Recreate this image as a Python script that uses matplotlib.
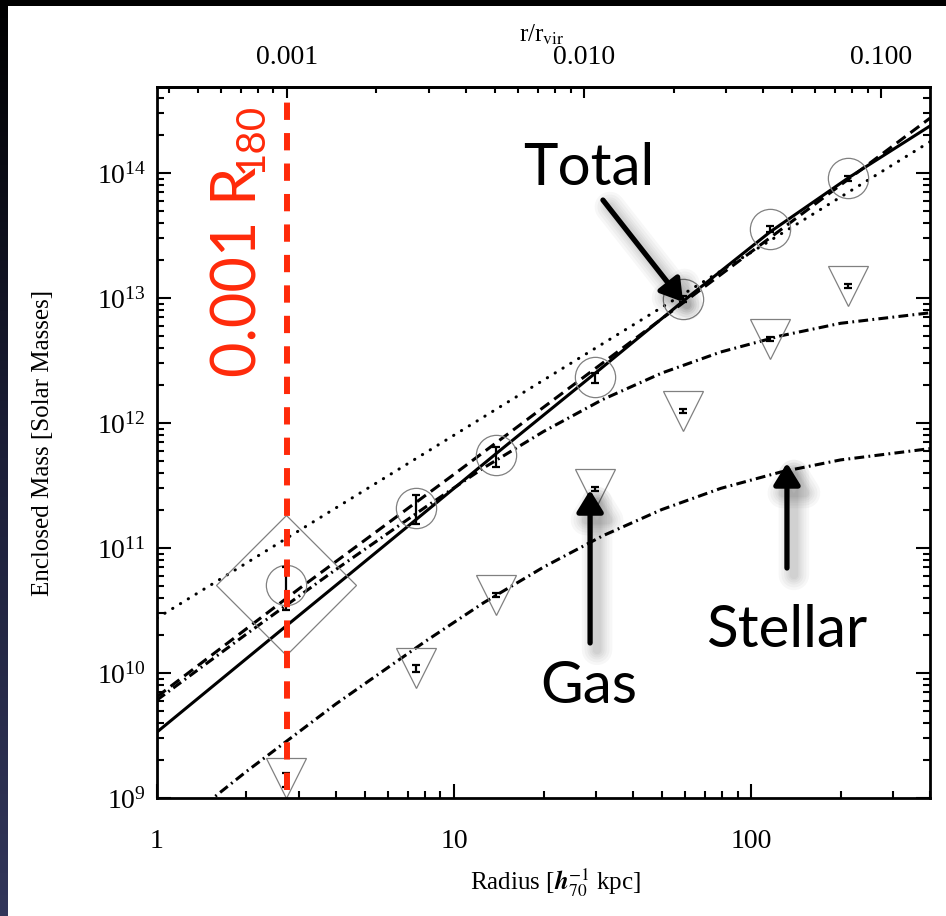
import numpy as np
import matplotlib
matplotlib.use('Agg')
import matplotlib.pyplot as plt
from matplotlib.ticker import LogLocator, NullFormatter, FixedLocator, FuncFormatter
from matplotlib.colors import LinearSegmentedColormap
from matplotlib.patches import Rectangle
from matplotlib import patheffects as pe

plt.rcParams['font.family'] = ['Liberation Serif', 'DejaVu Serif']
plt.rcParams['mathtext.fontset'] = 'stix'

# virial radius (kpc) used for the top axis and the marker line
r180 = 2740.0

# total mass points (circles) with error bar limits
radius = [2.72, 7.45, 13.8, 29.9, 59.0, 116.0, 212.0]
mass_total = [5.06e10, 2.09e11, 5.55e11, 2.33e12, 9.8e12, 3.57e13, 9.1e13]
mass_total_lo = [3.19e10, 1.56e11, 4.45e11, 2.09e12, 9.3e12, 3.40e13, 8.7e13]
mass_total_hi = [7.05e10, 2.65e11, 6.43e11, 2.51e12, 1.03e13, 3.75e13, 9.5e13]

# gas mass points (triangles)
mass_gas = [1.45e9, 1.10e10, 4.2e10, 2.97e11, 1.25e12, 4.7e12, 1.25e13]
mass_gas_lo = [1.22e9, 1.02e10, 4.05e10, 2.88e11, 1.21e12, 4.55e12, 1.21e13]
mass_gas_hi = [1.58e9, 1.16e10, 4.35e10, 3.06e11, 1.29e12, 4.85e12, 1.29e13]

# model curves
r_total_fit = [1, 2.74, 4.47, 7.45, 13.8, 29.9, 59.0, 116.0, 212.0, 400.0]
m_total_fit = [3.37e9, 2.41e10, 6.24e10, 1.69e11, 5.65e11, 2.51e12, 9.44e12, 3.39e13, 9.12e13, 2.38e14]

r_dashed = [1, 3, 10, 30, 100, 400]
m_dashed = [6.46e9, 4.7e10, 3.89e11, 2.75e12, 2.34e13, 2.75e14]

r_dotted = [1, 10, 100, 400]
m_dotted = [2.75e10, 8.0e11, 2.32e13, 1.78e14]

r_gas_fit = [1, 2, 4, 8, 12.6, 20, 31.6, 50, 79, 126, 200, 400]
m_gas_fit = [6.08e9, 2.05e10, 6.73e10, 2.12e11, 4.39e11, 8.55e11, 1.54e12, 2.51e12,
             3.70e12, 4.99e12, 6.28e12, 7.62e12]

r_star_fit = [1, 2, 4, 8, 12.6, 20, 31.6, 50, 79, 126, 200, 400]
m_star_fit = [4.39e8, 1.63e9, 5.65e9, 1.79e10, 3.66e10, 7.03e10, 1.25e11, 2.03e11,
              3.0e11, 4.06e11, 5.07e11, 6.24e11]

W, H = 946, 916
fig = plt.figure(figsize=(W / 100, H / 100), dpi=100, facecolor='black')

# white slide panel and the dark strip on the left
panel = fig.add_axes([7 / W, 0, 1 - 7 / W, 1 - 6 / H], zorder=-10)
panel.axis('off')
panel.add_patch(Rectangle((0, 0), 1, 1, transform=panel.transAxes, facecolor='white', edgecolor='none'))
strip = fig.add_axes([0, 0, 7 / W, 1], zorder=-10)
grad = np.linspace(0, 1, 256).reshape(-1, 1)
strip.imshow(grad, aspect='auto', origin='upper',
             cmap=LinearSegmentedColormap.from_list('strip', ['#000000', '#1c1f38', '#32365a']))
strip.axis('off')

ax = fig.add_axes([157 / W, (H - 798) / H, (930 - 157) / W, (798 - 87) / H])
ax.set_facecolor('none')
ax.set_xscale('log')
ax.set_yscale('log')
ax.set_xlim(1, 400)
ax.set_ylim(1e9, 4.88e14)

lw = 2.2
dashdot = (0, (3.2, 1.4, 0.6, 1.4))
ax.plot(r_dotted, m_dotted, color='k', lw=lw, linestyle=(0, (0.1, 2.9)), dash_capstyle='round')
ax.plot(r_dashed, m_dashed, color='k', lw=lw, linestyle=(0, (3.6, 2.0)))
ax.plot(r_gas_fit, m_gas_fit, color='k', lw=lw, linestyle=dashdot)
ax.plot(r_star_fit, m_star_fit, color='k', lw=lw, linestyle=dashdot)
ax.plot(r_total_fit, m_total_fit, color='k', lw=lw)

gray = '#808080'
ax.plot(radius, mass_total, linestyle='none', marker='o', ms=29, mfc='none', mec=gray, mew=0.9)
ax.plot(radius, mass_gas, linestyle='none', marker='v', ms=29.5, mfc='none', mec=gray, mew=0.9)
ax.plot(radius[:1], mass_total[:1], linestyle='none', marker='D', ms=71, mfc='none', mec=gray, mew=0.9)

tot_err = [np.array(mass_total) - np.array(mass_total_lo), np.array(mass_total_hi) - np.array(mass_total)]
gas_err = [np.array(mass_gas) - np.array(mass_gas_lo), np.array(mass_gas_hi) - np.array(mass_gas)]
ax.errorbar(radius, mass_total, yerr=tot_err, fmt='none', ecolor='k', elinewidth=1.6, capsize=3, capthick=1.6)
ax.errorbar(radius, mass_gas, yerr=gas_err, fmt='none', ecolor='k', elinewidth=1.6, capsize=3, capthick=1.6)

# 0.001 R180 marker
red = '#ff2a0a'
ax.axvline(0.001 * r180, ymin=0.011, ymax=0.986, color=red, lw=4.3, linestyle=(0, (2.9, 2.2)))
ax.text(2.17, 2.33e12, '0.001 R', rotation=90, rotation_mode='anchor', ha='left', va='baseline',
        color=red, fontsize=44, family='Lato')
ax.text(2.27, 1.0e14, '180', rotation=90, rotation_mode='anchor', ha='left', va='baseline',
        color=red, fontsize=29, family='Lato')

# labelled arrows with a soft drop shadow
shadow = [pe.SimpleLineShadow(offset=(5, -5), shadow_color='k', alpha=0.03, linewidth=w)
          for w in (22, 18, 14, 11, 8, 6)] + [pe.Normal()]
arrows = [((59.0, 9.3e12), (31.7, 6.08e13)),
          ((28.7, 2.91e11), (28.7, 1.74e10)),
          ((132.0, 4.79e11), (132.0, 6.92e10))]
for tip, tail in arrows:
    an = ax.annotate('', xy=tip, xytext=tail,
                     arrowprops=dict(arrowstyle='-|>,head_length=1.3,head_width=0.8', mutation_scale=10,
                                     lw=3.8, color='k', shrinkA=0, shrinkB=0))
    an.arrow_patch.set_path_effects(shadow)

ax.text(28.3, 8.0e13, 'Total', ha='center', va='baseline', fontsize=42, family='Lato')
ax.text(28.5, 5.75e9, 'Gas', ha='center', va='baseline', fontsize=42, family='Lato')
ax.text(132.0, 1.61e10, 'Stellar', ha='center', va='baseline', fontsize=42, family='Lato')

# axes, ticks and labels
ax.xaxis.set_major_locator(FixedLocator([1, 10, 100]))
ax.xaxis.set_major_formatter(FuncFormatter(lambda v, _: '%g' % v))
ax.xaxis.set_minor_locator(LogLocator(base=10, subs=np.arange(2, 10), numticks=50))
ax.xaxis.set_minor_formatter(NullFormatter())
ax.yaxis.set_major_locator(LogLocator(base=10, numticks=20))
ax.yaxis.set_minor_locator(LogLocator(base=10, subs=np.arange(2, 10), numticks=100))
ax.yaxis.set_minor_formatter(NullFormatter())

ax.tick_params(which='both', direction='in', top=False, right=True, width=1.5, labelsize=20)
ax.tick_params(which='major', length=10)
ax.tick_params(which='minor', length=5)
ax.tick_params(axis='x', pad=22)
ax.tick_params(axis='y', pad=8)
for s in ax.spines.values():
    s.set_linewidth(2)

secax = ax.secondary_xaxis('top', functions=(lambda r: r / r180, lambda q: q * r180))
secax.set_xticks([0.001, 0.01, 0.1], labels=['0.001', '0.010', '0.100'])
secax.xaxis.set_minor_locator(LogLocator(base=10, subs=np.arange(2, 10), numticks=50))
secax.xaxis.set_minor_formatter(NullFormatter())
secax.tick_params(which='both', direction='in', width=1.5, labelsize=20, pad=12)
secax.tick_params(which='major', length=8)
secax.tick_params(which='minor', length=4)
secax.spines['top'].set_linewidth(2)
ax.text(0.498, 1.074, r'r/r$_{\mathrm{vir}}$', transform=ax.transAxes, ha='center', va='center', fontsize=18)

ax.set_ylabel('Enclosed Mass [Solar Masses]', fontsize=18, va='center')
ax.yaxis.set_label_coords(-0.1475, 0.5)
ax.set_xlabel(r'Radius [$\mathbfit{h}_{70}^{-1}$ kpc]', fontsize=18, va='center')
ax.xaxis.set_label_coords(0.515, -0.118)

fig.savefig('out.png', dpi=100, facecolor=fig.get_facecolor())
